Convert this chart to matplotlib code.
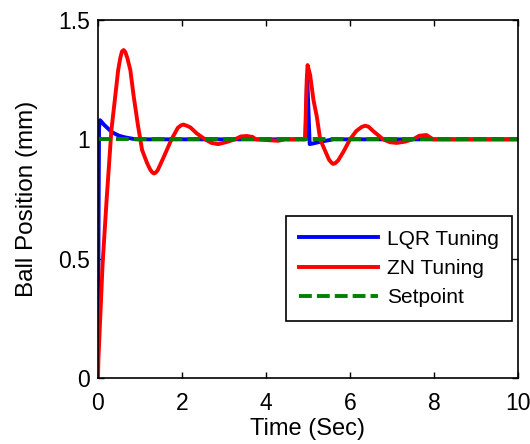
import matplotlib
matplotlib.use("Agg")
import matplotlib.pyplot as plt

plt.rcParams['font.family'] = ['Liberation Sans', 'DejaVu Sans']

# LQR tuning response
t_lqr = [0, 0.012, 0.025, 0.05, 0.15, 0.33, 0.5, 0.65, 0.9, 4.94, 4.98, 5.04, 5.1, 5.3, 5.6, 10]
y_lqr = [0, 0.6, 1.05, 1.08, 1.06, 1.03, 1.015, 1.008, 1.0, 1.0, 1.27, 0.98, 0.982, 0.99, 1.0, 1.0]

# ZN tuning response
t_zn = [0, 0.01, 0.11, 0.21, 0.32, 0.41, 0.48, 0.53, 0.57, 0.61, 0.65, 0.7, 0.77, 0.85, 0.95,
        1.05, 1.17, 1.24, 1.29, 1.33, 1.37, 1.42, 1.55, 1.75, 1.9, 1.97, 2.03, 2.1, 2.2, 2.35,
        2.55, 2.7, 2.86, 3.05, 3.26, 3.4, 3.54, 3.68, 3.76, 4.1, 4.29, 4.45, 4.93, 4.97, 4.99,
        5.05, 5.13, 5.21, 5.29, 5.4, 5.5, 5.56, 5.6, 5.65, 5.72, 5.85, 6.0, 6.15, 6.28, 6.36,
        6.44, 6.55, 6.79, 6.95, 7.11, 7.3, 7.5, 7.65, 7.82, 7.98, 10]
y_zn = [0, 0.08, 0.48, 0.76, 1.04, 1.18, 1.29, 1.34, 1.368, 1.374, 1.366, 1.34, 1.29, 1.18, 1.06,
        0.955, 0.90, 0.874, 0.862, 0.857, 0.86, 0.87, 0.92, 1.0, 1.048, 1.058, 1.062, 1.058, 1.05, 1.025,
        1.0, 0.985, 0.98, 0.988, 1.0, 1.012, 1.014, 1.01, 1.0, 0.996, 0.994, 1.0, 1.0, 1.25, 1.311,
        1.27, 1.165, 1.095, 1.0, 0.955, 0.915, 0.902, 0.897, 0.9, 0.912, 0.95, 1.0, 1.035, 1.052, 1.057,
        1.053, 1.035, 1.0, 0.988, 0.985, 0.99, 1.0, 1.015, 1.018, 1.0, 1.0]

# Setpoint
t_sp = [0, 10]
y_sp = [1, 1]

x_ticks = [0, 2, 4, 6, 8, 10]
y_ticks = [0, 0.5, 1, 1.5]
y_tick_labels = ['0', '0.5', '1', '1.5']

fig = plt.figure(figsize=(5.3, 4.44), dpi=100)
ax = fig.add_axes([98/530, 66/444, 420/530, 358/444])

lw = 2.8
ax.plot(t_lqr, y_lqr, color='#0000ff', lw=lw, label='LQR Tuning', solid_joinstyle='round')
ax.plot(t_zn, y_zn, color='#ff0000', lw=lw, label='ZN Tuning', solid_joinstyle='round')
ax.plot(t_sp, y_sp, color='#008000', lw=lw, linestyle=(0, (3.3, 1.3)), label='Setpoint')

ax.set_xlim(0, 10)
ax.set_ylim(0, 1.5)
ax.set_xticks(x_ticks)
ax.set_yticks(y_ticks)
ax.set_yticklabels(y_tick_labels)
ax.tick_params(direction='in', length=4, width=1, top=True, right=True,
               labelsize=16.5, colors='black')
ax.tick_params(axis='x', pad=10)
ax.tick_params(axis='y', pad=5.5)
for s in ax.spines.values():
    s.set_linewidth(1.2)

ax.set_xlabel('Time (Sec)', fontsize=17, labelpad=2)
ax.set_ylabel('Ball Position (mm)', fontsize=17.5, labelpad=15)

leg = ax.legend(loc='upper right', bbox_to_anchor=(0.9857, 0.4525), fontsize=15,
                frameon=True, fancybox=False, framealpha=1, edgecolor='black',
                handlelength=3.8, handletextpad=0.4, labelspacing=0.5,
                borderpad=0.65, borderaxespad=0)
leg.get_frame().set_linewidth(1.2)

fig.savefig('out.png', dpi=100)
